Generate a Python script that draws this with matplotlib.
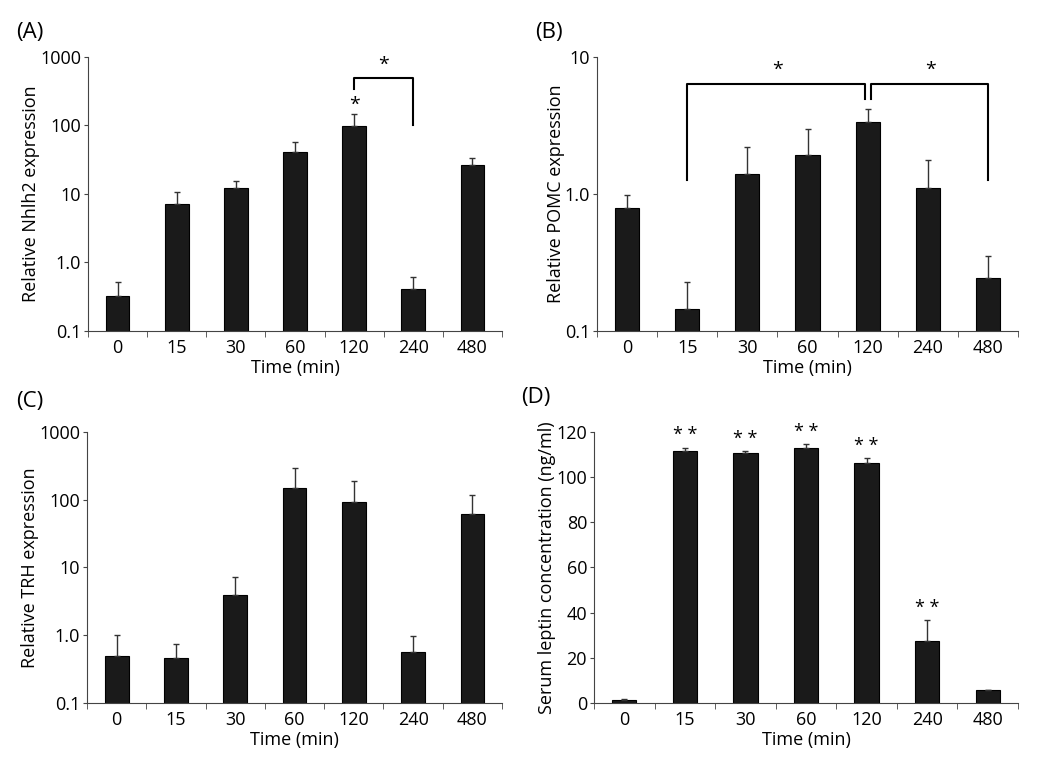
import numpy as np
import matplotlib
matplotlib.use('Agg')
import matplotlib.pyplot as plt

plt.rcParams['font.family'] = ['Open Sans', 'DejaVu Sans']
plt.rcParams['font.size'] = 13

# ---------- data ----------
times = ['0', '15', '30', '60', '120', '240', '480']

nhlh2_mean = [0.325, 7.1, 12.4, 40.7, 98, 0.416, 26.3]
nhlh2_top = [0.527, 10.7, 15.3, 57.7, 145, 0.62, 33.6]

pomc_mean = [0.785, 0.145, 1.40, 1.93, 3.36, 1.11, 0.245]
pomc_top = [0.98, 0.227, 2.19, 2.96, 4.14, 1.77, 0.354]

trh_mean = [0.497, 0.454, 3.92, 148, 92.5, 0.556, 60.8]
trh_top = [0.99, 0.737, 7.3, 295, 188, 0.98, 117]

leptin_mean = [1.2, 111.5, 110.5, 113, 106.3, 27.2, 5.6]
leptin_top = [1.9, 113, 111.5, 114.6, 108.4, 36.7, 5.9]

log4_ticks = [0.1, 1, 10, 100, 1000]
log4_labels = ['0.1', '1.0', '10', '100', '1000']
log2_ticks = [0.1, 1, 10]
log2_labels = ['0.1', '1.0', '10']
lin_ticks = [0, 20, 40, 60, 80, 100, 120]

fig = plt.figure(figsize=(10.5, 7.72), dpi=100)

axA = fig.add_axes([0.0838, 0.5713, 0.3943, 0.3549])
axB = fig.add_axes([0.5686, 0.5713, 0.4009, 0.3549])
axC = fig.add_axes([0.0829, 0.0894, 0.3952, 0.3514])
axD = fig.add_axes([0.5657, 0.0894, 0.4038, 0.3514])

x = np.arange(len(times))


def draw(ax, mean, top, ylabel):
    mean = np.array(mean)
    top = np.array(top)
    ax.bar(x, mean, width=0.4, color='#1a1a1a', edgecolor='black', linewidth=0.8, zorder=2)
    # only the upper half of the error bar is drawn
    ax.errorbar(x, mean, yerr=[np.zeros_like(mean), top - mean], fmt='none',
                ecolor='#333333', elinewidth=1, capsize=2, capthick=1, zorder=3)
    ax.set_xlim(-0.5, 6.5)
    ax.spines['top'].set_visible(False)
    ax.spines['right'].set_visible(False)
    ax.spines['left'].set_color('#444444')
    ax.spines['bottom'].set_color('#444444')
    ax.set_xticks(x)
    ax.set_xticklabels(times)
    # tick marks sit between the categories
    ax.set_xticks(np.arange(-0.5, 7.0, 1.0), minor=True)
    ax.tick_params(axis='x', which='major', length=0, pad=6)
    ax.tick_params(axis='x', which='minor', length=4, color='#444444')
    ax.tick_params(axis='y', which='major', length=3, color='#444444', pad=2)
    ax.tick_params(axis='y', which='minor', length=0)
    ax.set_xlabel('Time (min)', labelpad=1)
    ax.set_ylabel(ylabel, labelpad=0)


# (A) Nhlh2
draw(axA, nhlh2_mean, nhlh2_top, 'Relative Nhlh2 expression')
axA.set_yscale('log')
axA.set_ylim(0.1, 1000)
axA.set_yticks(log4_ticks)
axA.set_yticklabels(log4_labels)
axA.plot([4, 4, 5, 5], [336, 499, 499, 100], color='black', lw=1.5)
axA.text(4.5, 560, '*', ha='center', va='bottom', fontsize=14)
axA.text(4, 150, '*', ha='center', va='bottom', fontsize=14)

# (B) POMC
draw(axB, pomc_mean, pomc_top, 'Relative POMC expression')
axB.set_yscale('log')
axB.set_ylim(0.1, 10)
axB.set_yticks(log2_ticks)
axB.set_yticklabels(log2_labels)
axB.plot([1, 1, 3.95, 3.95], [1.27, 6.3, 6.3, 4.96], color='black', lw=1.5)
axB.plot([4.05, 4.05, 6, 6], [4.96, 6.3, 6.3, 1.27], color='black', lw=1.5)
axB.text(2.5, 6.9, '*', ha='center', va='bottom', fontsize=14)
axB.text(5.05, 6.9, '*', ha='center', va='bottom', fontsize=14)

# (C) TRH
draw(axC, trh_mean, trh_top, 'Relative TRH expression')
axC.set_yscale('log')
axC.set_ylim(0.1, 1000)
axC.set_yticks(log4_ticks)
axC.set_yticklabels(log4_labels)

# (D) leptin
draw(axD, leptin_mean, leptin_top, 'Serum leptin concentration (ng/ml)')
axD.set_ylim(0, 120)
axD.set_yticks(lin_ticks)
for i in [1, 2, 3, 4, 5]:
    axD.text(x[i], leptin_top[i] + 1.5, '* *', ha='center', va='bottom', fontsize=13)

# panel letters
fig.text(0.015, 0.958, '(A)', fontsize=16, va='center')
fig.text(0.510, 0.958, '(B)', fontsize=16, va='center')
fig.text(0.015, 0.480, '(C)', fontsize=16, va='center')
fig.text(0.496, 0.485, '(D)', fontsize=16, va='center')

fig.savefig('out.png', dpi=100)
